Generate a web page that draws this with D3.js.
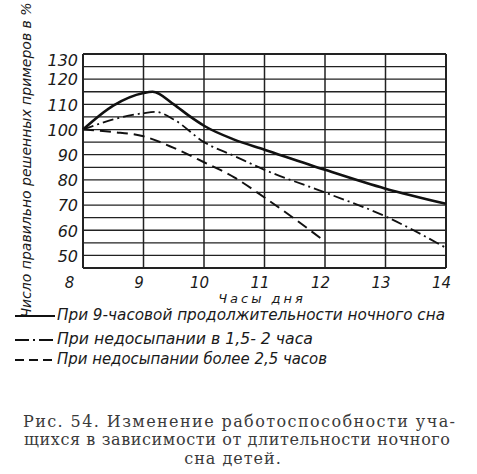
<!DOCTYPE html>
<html><head><meta charset="utf-8">
<script src="https://cdn.jsdelivr.net/npm/d3@7"></script>
<style>
html,body{margin:0;padding:0;background:#fff;}
svg{display:block;}
.hand{font-family:"DejaVu Sans","Liberation Sans Narrow",sans-serif;font-style:italic;fill:#1a1a1a;}
.cap{font-family:"DejaVu Serif","Liberation Serif",serif;fill:#3a3a3a;}
</style></head>
<body>
<script>
// ---- data ----
const xTicks = [8, 9, 10, 11, 12, 13, 14];
const yTicks = [130, 120, 110, 100, 90, 80, 70, 60, 50];
const gridValues = [125, 115, 105, 95, 85, 75, 65, 55, 45];

const normalHours = [8, 8.5, 9, 9.15, 9.5, 9.75, 10, 10.5, 11, 12, 13, 14];
const normalValues = [100, 109.5, 114.5, 115, 110, 105.5, 101.5, 96, 92, 84, 76.5, 70.5];

const mildHours = [8, 8.5, 9, 9.2, 9.5, 10, 10.5, 11, 12, 13, 14];
const mildValues = [100, 104, 106.5, 107, 104, 95, 89.5, 84, 75, 65.5, 53];

const severeHours = [8, 8.5, 9, 9.5, 10, 10.5, 11, 11.5, 12];
const severeValues = [100, 99, 97.3, 92.7, 87, 81, 73, 64.5, 55.5];

const legendLabels = [
  "При 9-часовой продолжительности ночного сна",
  "При  недосыпании  в 1,5- 2 часа",
  "При недосыпании  более  2,5 часов"
];
const xTitle = "Часы дня";
const yTitle = "Число правильно решенных примеров в %";
const captionLines = [
  "Рис. 54.  Изменение  работоспособности уча-",
  "щихся в зависимости от длительности ночного",
  "сна детей."
];

// ---- layout ----
const W = 477, H = 474;
const svg = d3.select("body").append("svg").attr("width", W).attr("height", H);
const x = d3.scaleLinear().domain([8, 14]).range([83, 446]);
const y = d3.scaleLinear().domain([45, 130]).range([268, 54]);

const g = svg.append("g");
// horizontal grid
g.selectAll(".hg").data(yTicks.concat(gridValues)).join("line")
  .attr("x1", x(8)).attr("x2", x(14))
  .attr("y1", d => y(d)).attr("y2", d => y(d))
  .attr("stroke", "#222").attr("stroke-width", d => (d === 130 || d === 45) ? 2 : 1.3);
// vertical grid
g.selectAll(".vg").data(xTicks).join("line")
  .attr("x1", d => x(d)).attr("x2", d => x(d))
  .attr("y1", y(130)).attr("y2", y(45))
  .attr("stroke", "#222").attr("stroke-width", d => (d === 8 || d === 14) ? 2 : 1.5);

// axes labels via d3 axes
const xAxis = d3.axisBottom(x).tickValues(xTicks).tickSize(0).tickFormat(d3.format("d"));
const xa = svg.append("g").attr("transform", `translate(0,${y(45)})`).call(xAxis);
xa.select(".domain").remove();
xa.selectAll("text").attr("class", "hand").attr("font-size", 15).attr("font-family", null)
  .attr("dy", 0).attr("y", 19.5)
  .attr("dx", d => d === 8 ? -14 : -5);

const yAxis = d3.axisLeft(y).tickValues(yTicks).tickSize(0);
const ya = svg.append("g").attr("transform", `translate(${x(8)},0)`).call(yAxis);
ya.select(".domain").remove();
ya.selectAll("text").attr("class", "hand").attr("font-size", 16).attr("font-family", null)
  .attr("x", -5)
  .attr("dy", d => d === 130 ? "0.72em" : "0.36em");

// titles
svg.append("text").attr("class", "hand").attr("font-size", 13)
  .attr("x", 262).attr("y", 303).attr("text-anchor", "middle")
  .attr("letter-spacing", 3).text(xTitle);
svg.append("text").attr("class", "hand").attr("font-size", 14)
  .attr("transform", "translate(31,160) rotate(-90)")
  .attr("text-anchor", "middle").text(yTitle);

// lines
const line = d3.line().x(d => x(d[0])).y(d => y(d[1])).curve(d3.curveMonotoneX);
const series = [
  {h: normalHours, v: normalValues, w: 2.6, dash: null},
  {h: mildHours, v: mildValues, w: 1.8, dash: "11,4,2,4"},
  {h: severeHours, v: severeValues, w: 2, dash: "11,6"}
];
series.forEach(s => {
  svg.append("path").datum(d3.zip(s.h, s.v)).attr("d", line)
    .attr("fill", "none").attr("stroke", "#111").attr("stroke-width", s.w)
    .attr("stroke-dasharray", s.dash);
});

// legend
const legY = [320, 344, 364];
const legLen = [388, 256, 270];
const legDash = [null, "14,4,2,4", "9,5"];
legendLabels.forEach((t, i) => {
  svg.append("line").attr("x1", 15).attr("x2", 55).attr("y1", legY[i] - 4).attr("y2", legY[i] - 4)
    .attr("stroke", "#111").attr("stroke-width", 2).attr("stroke-dasharray", legDash[i]);
  svg.append("text").attr("class", "hand").attr("font-size", 15)
    .attr("x", 57).attr("y", legY[i])
    .attr("textLength", legLen[i]).attr("lengthAdjust", "spacingAndGlyphs").text(t);
});

// caption
const capY = [427, 445, 464];
captionLines.forEach((t, i) => {
  const el = svg.append("text").attr("class", "cap").attr("font-size", 16).attr("y", capY[i]).text(t);
  if (i < 2) el.attr("x", i === 0 ? 23 : 24).attr("textLength", i === 0 ? 432 : 426).attr("lengthAdjust", "spacing");
  else el.attr("x", 233).attr("text-anchor", "middle").attr("letter-spacing", 1);
});
</script>
</body></html>
